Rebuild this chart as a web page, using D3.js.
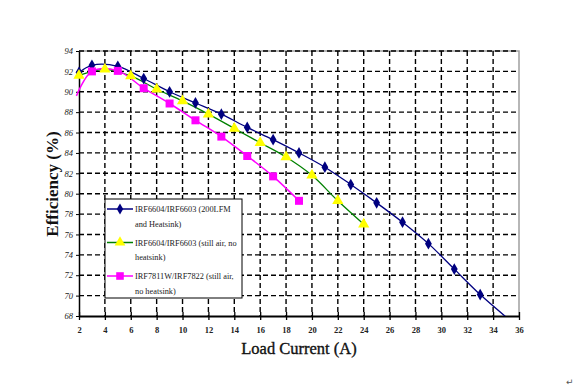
<!DOCTYPE html>
<html><head><meta charset="utf-8">
<script src="https://cdn.jsdelivr.net/npm/d3@7"></script>
<style>body{margin:0;background:#fff}svg{display:block}</style>
</head><body>
<script>
// ---- data ----
const xTicks = [2,4,6,8,10,12,14,16,18,20,22,24,26,28,30,32,34,36];
const yTicks = [68,70,72,74,76,78,80,82,84,86,88,90,92,94];
const blueX = [2,3,5,7,9,11,13,15,17,19,21,23,25,27,29,31,33,35];
const blueY = [91.9,92.6,92.5,91.3,90.0,88.9,87.8,86.5,85.3,84.0,82.6,80.9,79.1,77.2,75.1,72.6,70.1,67.9];
const yellowX = [2,4,6,8,10,12,14,16,18,20,22,24];
const yellowY = [91.6,92.2,91.55,90.25,89.1,87.8,86.4,85.0,83.6,81.8,79.3,77.0];
const pinkX = [1.8,3,5,7,9,11,13,15,17,19];
const pinkY = [89.6,92.0,92.05,90.35,88.85,87.2,85.6,83.7,81.7,79.3];
const seriesNames = [
  ["IRF6604/IRF6603 (200LFM","and Heatsink)"],
  ["IRF6604/IRF6603 (still air, no","heatsink)"],
  ["IRF7811W/IRF7822 (still air,","no heatsink)"]
];
const xTitle = "Load Current (A)";
const yTitle = "Efficiency (%)";

const W=580,H=390;
const svg=d3.select("body").append("svg").attr("width",W).attr("height",H);
const L=79,R=519,T=51,B=316;
const x=d3.scaleLinear().domain([2,36]).range([L,R]);
const y=d3.scaleLinear().domain([68,94]).range([B,T]);
const serif="'Liberation Serif','Times New Roman',serif";

// frame (top/right gray)
svg.append("path").attr("d",`M${L},${T}H${R}V${B}`).attr("fill","none").attr("stroke","#a0a0a0").attr("stroke-width",1.5);

// grid
const g=svg.append("g");
g.selectAll(".hg").data(yTicks.filter(v=>v>68)).join("line")
  .attr("x1",L).attr("x2",R).attr("y1",d=>y(d)).attr("y2",d=>y(d))
  .attr("stroke","#000").attr("stroke-width",1.4).attr("stroke-dasharray","5,3");
g.selectAll(".vg").data(xTicks.filter(v=>v>2&&v<36)).join("line")
  .attr("y1",T).attr("y2",B).attr("x1",d=>x(d)).attr("x2",d=>x(d))
  .attr("stroke","#000").attr("stroke-width",1.4).attr("stroke-dasharray","5,3");

// axes
const ax=svg.append("g").attr("transform",`translate(0,${B})`)
  .call(d3.axisBottom(x).tickValues(xTicks).tickSize(4).tickSizeOuter(0).tickFormat(d3.format("d")));
ax.select(".domain").attr("stroke-width",2);
ax.selectAll(".tick line").attr("y1",-4).attr("stroke-width",1.3);
ax.selectAll("text").attr("font-family",serif).attr("font-size",8.5).attr("font-weight","bold").attr("y",9).attr("dy","0.9em").attr("fill","#222");
const ay=svg.append("g").attr("transform",`translate(${L},0)`)
  .call(d3.axisLeft(y).tickValues(yTicks).tickSize(3).tickSizeOuter(0).tickFormat(d3.format("d")));
ay.select(".domain").attr("stroke-width",1.5);
ay.selectAll("text").attr("font-family",serif).attr("font-size",8.5).attr("font-style","italic").attr("fill","#222");

// lines
const line=d3.line().x(d=>x(d[0])).y(d=>y(d[1])).curve(d3.curveCatmullRom.alpha(0.5));
const series=[
  {xs:blueX,ys:blueY,stroke:"#000080",fill:"#000080",sym:d3.symbolDiamond,size:40,w:1.3},
  {xs:yellowX,ys:yellowY,stroke:"#008000",fill:"#ffff00",sym:d3.symbolTriangle,size:55,w:1.3},
  {xs:pinkX,ys:pinkY,stroke:"#ff00ff",fill:"#ff00ff",sym:d3.symbolSquare,size:64,w:1.5}
];
const clip=svg.append("clipPath").attr("id","c").append("rect").attr("x",L-4).attr("y",T).attr("width",R-L+4).attr("height",B-T);
series.forEach(s=>{
  const pts=s.xs.map((v,i)=>[v,s.ys[i]]);
  svg.append("path").attr("d",line(pts)).attr("fill","none").attr("stroke",s.stroke).attr("stroke-width",s.w).attr("clip-path","url(#c)");
});
series.forEach(s=>{
  const pts=s.xs.map((v,i)=>[v,s.ys[i]]).filter(p=>p[0]>=2&&p[1]>=68);
  svg.append("g").selectAll("path").data(pts).join("path")
    .attr("d",d3.symbol().type(s.sym).size(s.size))
    .attr("transform",d=>`translate(${x(d[0])},${y(d[1])})`)
    .attr("fill",s.fill);
});

// legend
const lg=svg.append("g");
lg.append("rect").attr("x",105).attr("y",199).attr("width",137).attr("height",99).attr("fill","#fff").attr("stroke","#000").attr("stroke-width",1);
series.forEach((s,i)=>{
  const yy=209+i*33.5;
  lg.append("line").attr("x1",107).attr("x2",133).attr("y1",yy).attr("y2",yy).attr("stroke",s.stroke).attr("stroke-width",1.5);
  lg.append("path").attr("d",d3.symbol().type(s.sym).size(s.size*0.9)).attr("transform",`translate(120,${yy})`).attr("fill",s.fill);
  seriesNames[i].forEach((t,j)=>{
    lg.append("text").attr("x",135).attr("y",yy+3+j*14.5).text(t)
      .attr("font-family",serif).attr("font-size",8.3).attr("fill","#222");
  });
});

// titles
svg.append("text").attr("x",299).attr("y",354).attr("text-anchor","middle").text(xTitle)
  .attr("font-family",serif).attr("font-size",16.5).attr("fill","#111").attr("stroke","#111").attr("stroke-width",0.35);
svg.append("text").attr("transform","translate(58,184) rotate(-90)").attr("text-anchor","middle").text(yTitle)
  .attr("font-family",serif).attr("font-size",17).attr("font-weight","bold").attr("fill","#111");
svg.append("text").attr("x",566).attr("y",385).text("↵").attr("font-size",9).attr("fill","#555").attr("font-family","DejaVu Sans");
</script>
</body></html>
